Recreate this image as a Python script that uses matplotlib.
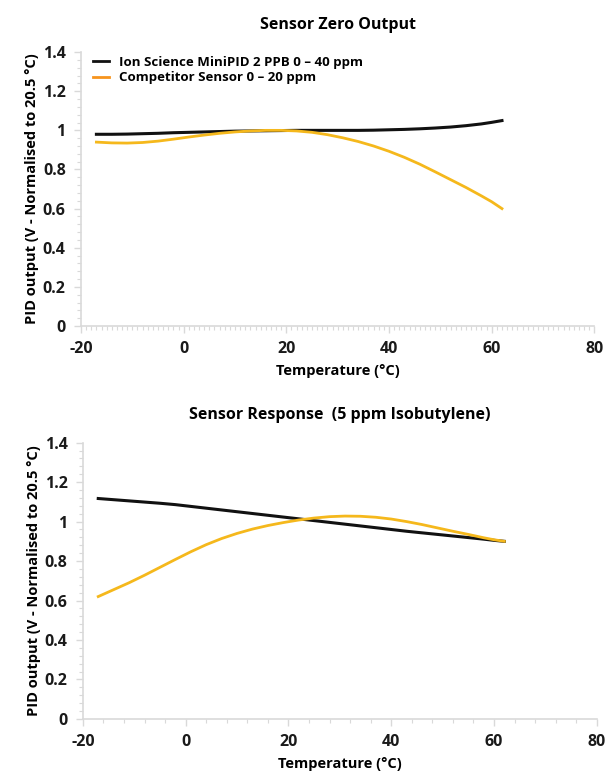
import matplotlib
matplotlib.use('Agg')
import matplotlib.pyplot as plt
from matplotlib.lines import Line2D
from matplotlib.ticker import MultipleLocator

plt.rcParams['font.family'] = ['Open Sans', 'DejaVu Sans']
plt.rcParams['font.weight'] = 'bold'
plt.rcParams['axes.unicode_minus'] = False

# top chart: sensor zero output
zero_temp = [-17, -14, -11, -8, -5, -2, 1, 4, 7, 10, 13, 16, 19, 22, 25, 28, 31, 34,
             37, 40, 43, 46, 49, 52, 55, 58, 60, 62]
zero_ion = [0.98, 0.98, 0.981, 0.983, 0.985, 0.988, 0.99, 0.992, 0.994, 0.996, 0.997,
            0.998, 0.999, 1.0, 1.0, 1.0, 1.0, 1.0, 1.001, 1.003, 1.005, 1.008, 1.012,
            1.017, 1.024, 1.033, 1.041, 1.05]
zero_comp = [0.94, 0.936, 0.935, 0.938, 0.945, 0.955, 0.966, 0.976, 0.985, 0.992,
             0.997, 1.0, 1.0, 0.997, 0.99, 0.978, 0.962, 0.943, 0.92, 0.893, 0.862,
             0.827, 0.788, 0.748, 0.708, 0.665, 0.635, 0.6]

# bottom chart: response to 5 ppm isobutylene
resp_temp = [-17, -14, -11, -8, -5, -2, 1, 4, 7, 10, 13, 16, 19, 22, 25, 28, 31, 34,
             37, 40, 43, 46, 49, 52, 55, 58, 60, 62]
resp_ion = [1.117, 1.111, 1.105, 1.099, 1.093, 1.086, 1.077, 1.068, 1.059, 1.05,
            1.041, 1.032, 1.023, 1.014, 1.005, 0.996, 0.987, 0.978, 0.969, 0.96,
            0.951, 0.943, 0.935, 0.927, 0.919, 0.911, 0.905, 0.9]
resp_comp = [0.62, 0.655, 0.69, 0.728, 0.768, 0.808, 0.847, 0.883, 0.914, 0.94,
             0.962, 0.98, 0.995, 1.008, 1.018, 1.025, 1.028, 1.027, 1.022, 1.013,
             1.0, 0.985, 0.968, 0.951, 0.935, 0.918, 0.908, 0.9]

LEGEND_LABELS = ['Ion Science MiniPID 2 PPB 0 \u2013 40 ppm', 'Competitor Sensor 0 \u2013 20 ppm']
BLACK = '#111111'
GOLD = '#f5b81c'
ORANGE = '#f7941d'
AXIS_GRAY = '#d9d9d9'
YLABEL = 'PID output (V - Normalised to 20.5 \u00b0C)'

fig = plt.figure(figsize=(6.09, 7.78), dpi=100)
ax1 = fig.add_axes([0.133, 0.581, 0.843, 0.352])
ax2 = fig.add_axes([0.136, 0.076, 0.844, 0.355])


def style(ax, minor_x):
    ax.set_xlim(-20, 80)
    ax.set_ylim(0, 1.4)
    ax.xaxis.set_major_locator(MultipleLocator(20))
    ax.xaxis.set_minor_locator(MultipleLocator(minor_x))
    ax.yaxis.set_minor_locator(MultipleLocator(0.04))
    ax.set_yticks([0, 0.2, 0.4, 0.6, 0.8, 1.0, 1.2, 1.4])
    ax.set_yticklabels(['0', '0.2', '0.4', '0.6', '0.8', '1', '1.2', '1.4'])
    for s in ['top', 'right']:
        ax.spines[s].set_visible(False)
    for s in ['left', 'bottom']:
        ax.spines[s].set_color(AXIS_GRAY)
        ax.spines[s].set_linewidth(1.2)
    ax.tick_params(axis='both', which='major', colors=AXIS_GRAY, labelcolor='#1a1a1a',
                   labelsize=11.5, length=5, width=1, pad=6)
    ax.tick_params(axis='both', which='minor', colors=AXIS_GRAY, length=3, width=0.8)
    for lab in ax.get_xticklabels() + ax.get_yticklabels():
        lab.set_fontweight('bold')
    ax.set_xlabel('Temperature (\u00b0C)', fontsize=10.5, fontweight='bold', labelpad=5)
    ax.set_ylabel(YLABEL, fontsize=10.5, fontweight='bold', labelpad=3)


ax1.plot(zero_temp, zero_ion, color=BLACK, lw=2.2)
ax1.plot(zero_temp, zero_comp, color=GOLD, lw=2)
style(ax1, 1)
ax1.set_title('Sensor Zero Output', fontsize=11.5, fontweight='bold', pad=17)
handles = [Line2D([0], [0], color=BLACK, lw=2), Line2D([0], [0], color=ORANGE, lw=2)]
ax1.legend(handles, LEGEND_LABELS, loc='upper left', bbox_to_anchor=(0.0, 1.03),
           frameon=False, prop={'size': 9.5, 'weight': 'bold'}, handlelength=1.2,
           labelspacing=0.2)

ax2.plot(resp_temp, resp_ion, color=BLACK, lw=2.2)
ax2.plot(resp_temp, resp_comp, color=GOLD, lw=2)
style(ax2, 4)
ax2.set_title('Sensor Response  (5 ppm Isobutylene)', fontsize=11.5, fontweight='bold', pad=17)

fig.savefig('out.png', dpi=100)
